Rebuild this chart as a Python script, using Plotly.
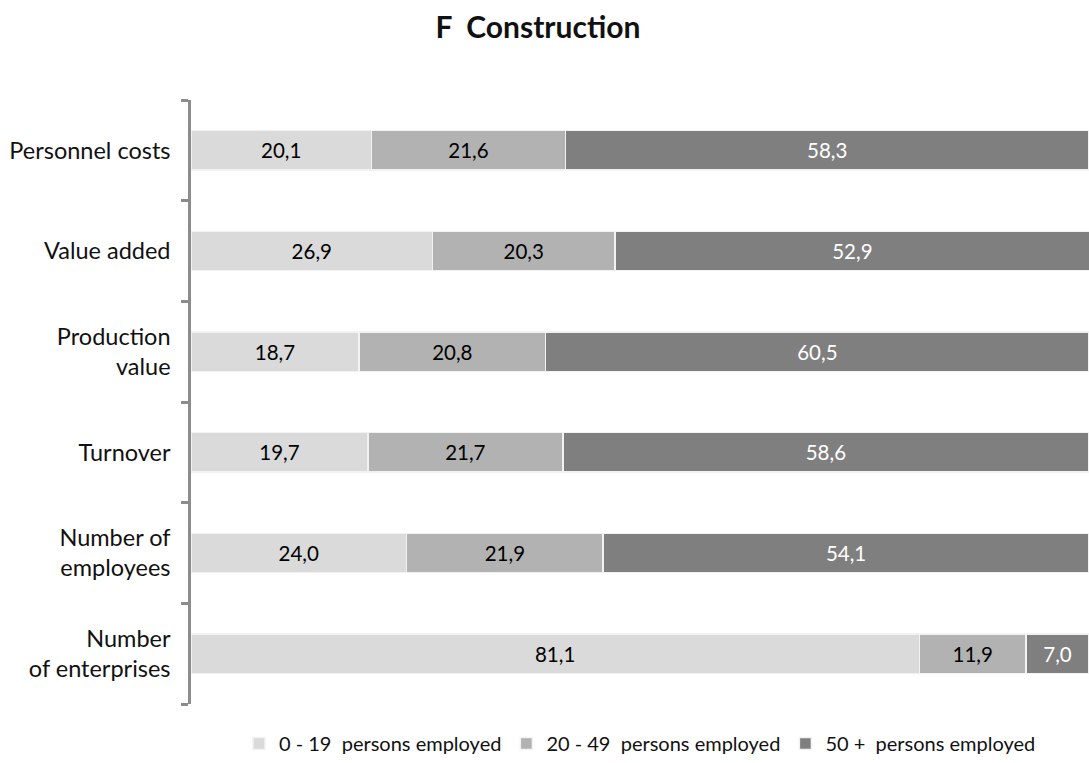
import plotly.graph_objects as go

categories = ["Number<br>of enterprises", "Number of<br>employees", "Turnover",
              "Production<br>value", "Value added", "Personnel costs"]
small = [81.1, 24.0, 19.7, 18.7, 26.9, 20.1]
medium = [11.9, 21.9, 21.7, 20.8, 20.3, 21.6]
large = [7.0, 54.1, 58.6, 60.5, 52.9, 58.3]
series_names = ["0 - 19\u00a0 persons employed", "20 - 49\u00a0 persons employed", "50 +\u00a0 persons employed"]
colors = ["#dadada", "#b2b2b2", "#7f7f7f"]
text_colors = ["#000000", "#000000", "#ffffff"]

FONT = "Lato"
fig = go.Figure()
for name, vals, col, tcol in zip(series_names, [small, medium, large], colors, text_colors):
    fig.add_trace(go.Bar(
        y=categories, x=vals, name=name, orientation="h",
        marker=dict(color=col, line=dict(color="#f2f2f2", width=1.5)),
        texttemplate="%{x:.1f}", textposition="inside", insidetextanchor="middle",
        textfont=dict(family=FONT, size=20.5, color=tcol),
        constraintext="none", width=0.39,
    ))

fig.update_layout(
    barmode="stack",
    separators=", ",
    width=1089, height=763,
    margin=dict(l=191, r=0, t=100, b=53),
    paper_bgcolor="white", plot_bgcolor="white",
    title=dict(text="<b>F\u00a0\u00a0Construction</b>", x=0.494, xanchor="center",
               y=1 - 27 / 763, yanchor="middle", font=dict(family=FONT, size=30, color="#111111")),
    font=dict(family=FONT, size=20, color="#111111"),
    legend=dict(orientation="h", x=0.5, xanchor="center", y=-0.066, yanchor="middle",
                font=dict(family=FONT, size=20, color="#111111"), traceorder="normal",
                itemwidth=30),
    xaxis=dict(range=[0, 100], showgrid=False, zeroline=False, showticklabels=False,
               showline=False, fixedrange=True),
    yaxis=dict(showline=True, linecolor="#8c8c8c", linewidth=2.5, ticks="outside",
               tickson="boundaries", ticklen=7, tickcolor="#8c8c8c", tickwidth=2.5,
               showgrid=False, ticklabelstandoff=13,
               tickfont=dict(family=FONT, size=23.5, color="#111111")),
)

fig.write_html("out.html")
